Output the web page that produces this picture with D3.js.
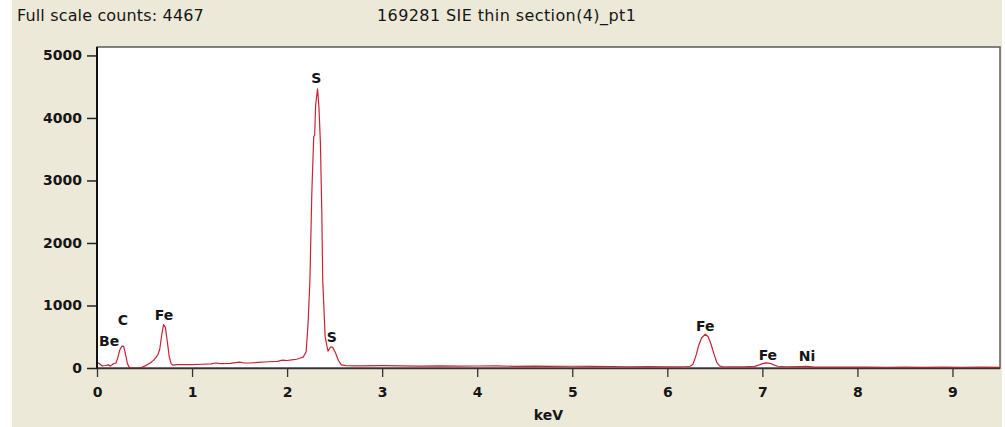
<!DOCTYPE html>
<html>
<head>
<meta charset="utf-8">
<script src="https://cdn.jsdelivr.net/npm/d3@7"></script>
<style>
  html, body { margin: 0; padding: 0; background: #ffffff; }
  svg { display: block; }
</style>
</head>
<body>
<svg id="chart" width="1005" height="427"></svg>
<script>
// ---------------- DATA ----------------
const fullScaleCounts = 4467;
const titleLeft = "Full scale counts: " + fullScaleCounts;
const titleMain = "169281 SIE thin section(4)_pt1";
const xAxisLabel = "keV";

const xTicks = [0, 1, 2, 3, 4, 5, 6, 7, 8, 9];
const yTicks = [0, 1000, 2000, 3000, 4000, 5000];

// spectrum (energy in keV, counts)
const spectrumKeV = [
  0.00, 0.02, 0.05, 0.09, 0.12, 0.14, 0.17, 0.20, 0.22, 0.24, 0.26, 0.28, 0.30, 0.32, 0.34, 0.36,
  0.40, 0.44, 0.46, 0.50, 0.56, 0.60, 0.64, 0.66, 0.68, 0.70, 0.72, 0.74, 0.76, 0.78, 0.80, 0.84,
  0.90, 1.00, 1.10, 1.20, 1.25, 1.30, 1.40, 1.50, 1.55, 1.60, 1.70, 1.80, 1.90, 1.95, 2.00, 2.05,
  2.10, 2.14, 2.17, 2.20, 2.22, 2.24, 2.26, 2.28, 2.29, 2.30, 2.32, 2.335, 2.35, 2.365, 2.375, 2.40,
  2.43, 2.46, 2.48, 2.51, 2.54, 2.57, 2.62, 2.70, 2.80, 3.00, 3.20, 3.40, 3.60, 3.80, 4.00, 4.20,
  4.40, 4.60, 4.80, 5.00, 5.20, 5.40, 5.60, 5.80, 6.00, 6.10, 6.20, 6.24, 6.27, 6.30, 6.33, 6.36,
  6.40, 6.43, 6.46, 6.49, 6.52, 6.55, 6.58, 6.70, 6.80, 6.92, 6.96, 7.00, 7.04, 7.08, 7.12, 7.16,
  7.25, 7.40, 7.47, 7.55, 7.70, 7.90, 8.10, 8.30, 8.50, 8.70, 8.90, 9.10, 9.30, 9.50
];
const spectrumCounts = [
  85, 75, 35, 40, 50, 30, 65, 80, 170, 290, 345, 350, 220, 70, 10, 0,
  0, 0, 5, 30, 80, 130, 210, 300, 520, 696, 650, 420, 180, 70, 45, 55,
  55, 55, 60, 65, 80, 70, 75, 95, 80, 80, 90, 100, 105, 125, 120, 130,
  140, 160, 175, 260, 700, 1400, 2800, 3700, 3720, 4200, 4467, 4170, 3610, 2500, 1400, 500,
  270, 340, 330, 240, 120, 50, 38, 35, 35, 38, 35, 30, 35, 30, 32, 34,
  26, 30, 25, 28, 25, 24, 20, 24, 20, 20, 24, 28, 60, 190, 360, 480,
  540, 500, 380, 230, 90, 35, 20, 20, 20, 25, 45, 70, 83, 75, 50, 28,
  20, 22, 25, 15, 15, 15, 15, 12, 15, 10, 15, 12, 14, 10
];

// element line labels
const elementNames = ["Be", "C", "Fe", "S", "S", "Fe", "Fe", "Ni"];
const elementKeV = [0.128, 0.272, 0.705, 2.307, 2.47, 6.40, 7.058, 7.47];
const elementLabelCounts = [345, 685, 760, 4555, 410, 590, 135, 105];

// ---------------- LAYOUT ----------------
const W = 1005, H = 427;
const panel = { left: 12, top: 0, right: 1002, bottom: 427 };
const plot = { left: 97, top: 47, right: 1000, bottom: 368 };
const xMax = 9.5;
const yMax = 5135;

const svg = d3.select("#chart");
const textColor = "#161616";
const boldFont = "'DejaVu Sans', Verdana, sans-serif";
const titleFont = "'DejaVu Sans', Tahoma, sans-serif";

svg.append("rect").attr("x", 0).attr("y", 0).attr("width", W).attr("height", H).attr("fill", "#ffffff");
svg.append("rect")
  .attr("x", panel.left).attr("y", panel.top)
  .attr("width", panel.right - panel.left).attr("height", panel.bottom - panel.top)
  .attr("fill", "#ece9d8");

const x = d3.scaleLinear().domain([0, xMax]).range([plot.left, plot.right]);
const y = d3.scaleLinear().domain([0, yMax]).range([plot.bottom, plot.top]);

// plot area
svg.append("rect")
  .attr("x", plot.left).attr("y", plot.top)
  .attr("width", plot.right - plot.left).attr("height", plot.bottom - plot.top)
  .attr("fill", "#ffffff")
  .attr("stroke", "#5a5a5a").attr("stroke-width", 1.5);

// titles
svg.append("text").attr("x", 17).attr("y", 21)
  .attr("font-family", titleFont).attr("font-size", 16).attr("letter-spacing", 0.15)
  .attr("fill", textColor)
  .text(titleLeft);
svg.append("text").attr("x", 377).attr("y", 21)
  .attr("font-family", titleFont).attr("font-size", 16).attr("letter-spacing", 0.4)
  .attr("fill", textColor)
  .text(titleMain);

// spectrum
const pts = spectrumKeV.map((e, i) => [e, spectrumCounts[i]]);
const line = d3.line().x(d => x(d[0])).y(d => y(d[1]));
svg.append("path")
  .datum(pts)
  .attr("d", line)
  .attr("fill", "none")
  .attr("stroke", "#cc2233")
  .attr("stroke-width", 1.2)
  .attr("stroke-linejoin", "round");

// axes
const yAxis = d3.axisLeft(y).tickValues(yTicks).tickSize(10).tickPadding(5).tickFormat(d3.format("d"));
const gy = svg.append("g").attr("transform", `translate(${plot.left},0)`).call(yAxis);
gy.select(".domain").remove();
gy.selectAll("line").attr("stroke", "#222").attr("stroke-width", 1.5);
gy.selectAll("text").attr("font-family", boldFont).attr("font-weight", "bold")
  .attr("font-size", 14).attr("fill", textColor);

const xAxis = d3.axisBottom(x).tickValues(xTicks).tickSize(9).tickPadding(10).tickFormat(d3.format("d"));
const gx = svg.append("g").attr("transform", `translate(0,${plot.bottom})`).call(xAxis);
gx.select(".domain").remove();
gx.selectAll("line").attr("stroke", "#333").attr("stroke-width", 1.3);
gx.selectAll("text").attr("font-family", boldFont).attr("font-weight", "bold")
  .attr("font-size", 14).attr("fill", textColor);

// axis lines
svg.append("line").attr("x1", plot.left).attr("x2", plot.left)
  .attr("y1", plot.top).attr("y2", plot.bottom + 1)
  .attr("stroke", "#111").attr("stroke-width", 2);
svg.append("line").attr("x1", plot.left).attr("x2", plot.right)
  .attr("y1", plot.bottom + 0.5).attr("y2", plot.bottom + 0.5)
  .attr("stroke", "#333").attr("stroke-width", 1.5);

// element labels
svg.append("g").selectAll("text")
  .data(elementNames)
  .join("text")
  .attr("x", (d, i) => x(elementKeV[i]))
  .attr("y", (d, i) => y(elementLabelCounts[i]))
  .attr("text-anchor", "middle")
  .attr("font-family", boldFont).attr("font-weight", "bold")
  .attr("font-size", 14).attr("fill", textColor)
  .text(d => d);

// x axis label
svg.append("text")
  .attr("x", (plot.left + plot.right) / 2).attr("y", 420)
  .attr("text-anchor", "middle")
  .attr("font-family", boldFont).attr("font-weight", "bold")
  .attr("font-size", 14).attr("fill", textColor)
  .text(xAxisLabel);
</script>
</body>
</html>
